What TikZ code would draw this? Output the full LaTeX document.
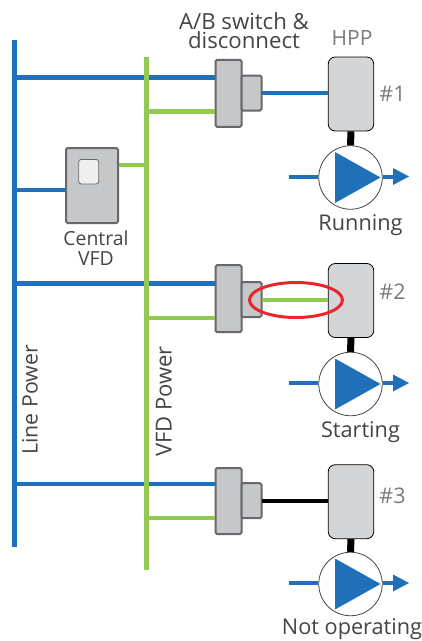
\documentclass[tikz,border=0pt]{standalone}
\usepackage{fontspec}
\usetikzlibrary{shapes.geometric}
\setmainfont{Open Sans}
\definecolor{busblue}{HTML}{1F70B8}
\definecolor{busgreen}{HTML}{92C952}
\definecolor{boxfill}{HTML}{C6C7C9}
\definecolor{boxedge}{HTML}{67686C}
\definecolor{hppfill}{HTML}{D4D5D7}
\definecolor{screenfill}{HTML}{EFEFEF}
\definecolor{txt}{HTML}{444444}
\definecolor{txtgray}{HTML}{7A7A7A}
\definecolor{ringred}{HTML}{E8262B}
\tikzset{
  bluebus/.style={draw=busblue,line width=4.6pt},
  greenbus/.style={draw=busgreen,line width=4.6pt},
  swbig/.style={rectangle,rounded corners=1.5pt,draw=boxedge,fill=boxfill,line width=2pt,inner sep=0pt,minimum width=26pt,minimum height=#1},
  swsmall/.style={rectangle,rounded corners=1.5pt,draw=boxedge,fill=boxfill,line width=2pt,inner sep=0pt,minimum width=20pt,minimum height=35pt},
  hppbox/.style={rectangle,rounded corners=7pt,draw=black,fill=hppfill,line width=0.8pt,inner sep=0pt,minimum width=45.5pt,minimum height=74pt},
  pumpring/.style={circle,draw=txt,fill=white,line width=0.8pt,inner sep=0pt,minimum size=63.5pt},
  shaft/.style={draw=black,line width=7pt},
  feed/.style={line width=4pt},
  lbl/.style={inner sep=0pt,text=txt,font=\fontsize{21.7}{21.7}\selectfont},
  grey lbl/.style={inner sep=0pt,text=txtgray,font=\fontsize{21.5}{21.5}\selectfont},
}
\newcommand{\pumpunit}[8]{%
 % #1 id, #2 y blue, #3 y green, #4 swbig cy, #5 swbig h, #6 feed colour, #7 hpp cy, #8 pump cy
 \node[swbig=#5] (sw#1) at (228.5,#4) {};
 \coordinate (ba#1) at (14.3,#2);
 \coordinate (bw#1) at (sw#1.west |- ba#1);
 \coordinate (ga#1) at (146.5,#3);
 \coordinate (gw#1) at (sw#1.west |- ga#1);
 \draw[bluebus] (ba#1) -- (bw#1);
 \draw[greenbus] (ga#1) -- (gw#1);
 \node[hppbox] (hpp#1) at (351,#7) {};
 \node[swsmall] (sm#1) at (251.5,#7-1) {};
 \coordinate (fe#1) at (261.5,#7-1);
 \draw[feed,draw=#6] (fe#1) -- (fe#1 -| hpp#1.west);
 \node[pumpring] (pump#1) at (350.5,#8) {};
 \draw[shaft] (hpp#1.south) -- (pump#1.north);
 \fill[busblue] (335,#8-25.5) -- (335,#8+25.5) -- (380.5,#8) -- cycle;
 \coordinate (in#1) at (289,#8-1);
 \coordinate (tip#1) at (409,#8-1);
 \draw[feed,draw=busblue] (in#1) -- (pump#1.west |- in#1);
 \draw[feed,draw=busblue,shorten >=14pt] (pump#1.east |- tip#1) -- (tip#1);
 \fill[busblue] (tip#1) -- ++(-16,-8.5) -- ++(0,17) -- cycle;
}
\begin{document}
\begin{tikzpicture}[x=1pt,y=-1pt]
\useasboundingbox (0,0) rectangle (422,641);
\coordinate (Ltop) at (14.3,40);
\coordinate (Lbot) at (14.3,547);
\coordinate (Gtop) at (146.5,57);
\coordinate (Gbot) at (146.5,570);
\draw[bluebus] (Ltop) -- (Lbot);
% central VFD
\node[rectangle,rounded corners=1.5pt,draw=boxedge,fill=boxfill,line width=2pt,inner sep=0pt,minimum width=52pt,minimum height=75pt] (vfd) at (92,185.5) {};
\node[rectangle,rounded corners=2.5pt,draw=boxedge,fill=screenfill,line width=0.8pt,inner sep=0pt,minimum width=20pt,minimum height=24.5pt] (screen) at (88.7,171.7) {};
\coordinate (vb) at (14.3,190);
\coordinate (vg) at (146.5,165);
\draw[bluebus] (vb) -- (vb -| vfd.west);
\draw[greenbus] (vg) -- (vg -| vfd.east);
\pumpunit{1}{77.3}{111.7}{93.3}{67}{busblue}{94}{177.5}
\pumpunit{2}{283.5}{318}{298.7}{67}{busgreen}{300.5}{384}
\pumpunit{3}{484}{518}{501}{66}{black}{501.7}{584}
\draw[greenbus] (Gtop) -- (Gbot);
\node[ellipse,draw=ringred,line width=3pt,inner sep=0pt,minimum width=93pt,minimum height=35pt] (ring) at (296,300) {};
% labels
\node[lbl,font=\fontsize{22.2}{22.2}\selectfont] (t1) at (244,21.5) {A/B switch \&};
\node[lbl,font=\fontsize{22.2}{22.2}\selectfont] (t2) at (244,40.5) {disconnect};
\node[grey lbl,font=\fontsize{21}{21}\selectfont] (hppl) at (352,38) {HPP};
\node[grey lbl] (n1) at (392.5,94) {\#1};
\node[grey lbl] (n2) at (392.5,292) {\#2};
\node[grey lbl] (n3) at (392.5,496) {\#3};
\node[lbl] (s1) at (360.5,225) {Running};
\node[lbl] (s2) at (360.5,432) {Starting};
\node[lbl] (s3) at (352,629) {Not operating};
\node[lbl,font=\fontsize{19.4}{19.4}\selectfont] (c1) at (96,238.5) {Central};
\node[lbl,font=\fontsize{19.4}{19.4}\selectfont] (c2) at (96,258.5) {VFD};
\node[lbl,rotate=90,font=\fontsize{21.3}{21.3}\selectfont] (lp) at (30,400) {Line Power};
\node[lbl,rotate=90,font=\fontsize{22}{22}\selectfont] (vp) at (164,401.5) {VFD Power};
\end{tikzpicture}
\end{document}
